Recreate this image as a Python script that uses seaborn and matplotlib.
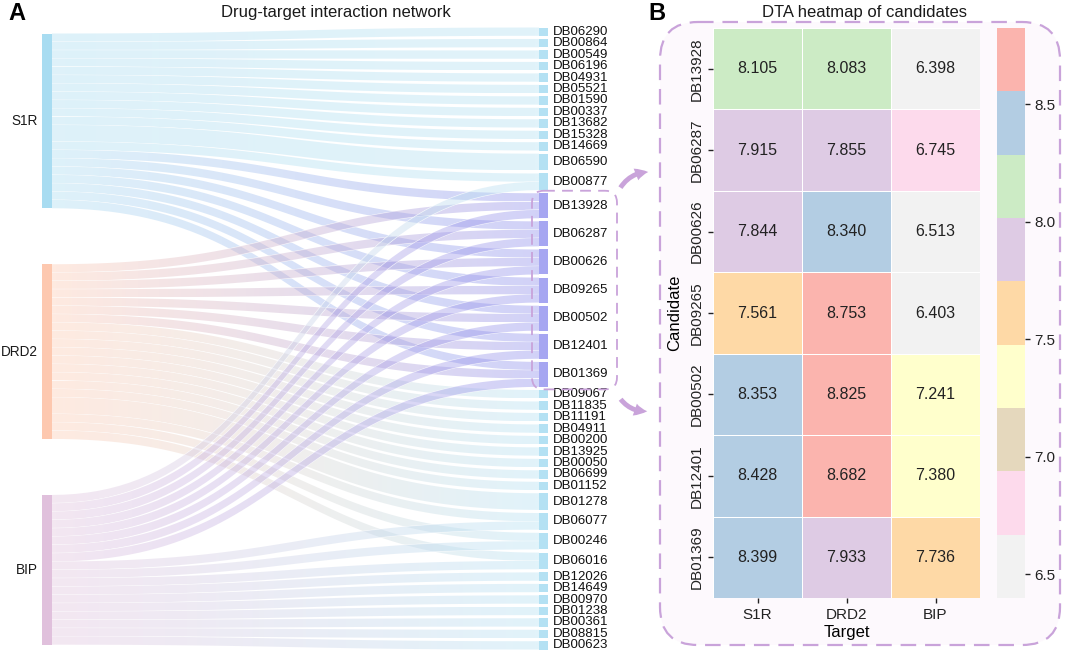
import numpy as np
import pandas as pd
import matplotlib
matplotlib.use("Agg")
import matplotlib.pyplot as plt
import seaborn as sns
from matplotlib.patches import Polygon, Rectangle, FancyBboxPatch
from matplotlib.colors import to_rgba

plt.rcParams['font.family'] = ['Liberation Sans', 'DejaVu Sans']

# ---- data: heatmap of candidates ----
targets = ["S1R", "DRD2", "BIP"]
candidates = ["DB13928", "DB06287", "DB00626", "DB09265", "DB00502", "DB12401", "DB01369"]
s1r_dta = [8.105, 7.915, 7.844, 7.561, 8.353, 8.428, 8.399]
drd2_dta = [8.083, 7.855, 8.340, 8.753, 8.825, 8.682, 7.933]
bip_dta = [6.398, 6.745, 6.513, 6.403, 7.241, 7.380, 7.736]

# ---- data: drug-target network ----
drugs_top = ["DB06290", "DB00864", "DB00549", "DB06196", "DB04931", "DB05521", "DB01590",
             "DB00337", "DB13682", "DB15328", "DB14669", "DB06590", "DB00877"]
drugs_bottom = ["DB09067", "DB11835", "DB11191", "DB04911", "DB00200", "DB13925", "DB00050",
                "DB06699", "DB01152", "DB01278", "DB06077", "DB00246", "DB06016", "DB12026",
                "DB14649", "DB00970", "DB01238", "DB00361", "DB08815", "DB00623"]

s1r_links = {"DB06290": 1, "DB00864": 1, "DB00549": 1, "DB06196": 1, "DB04931": 1, "DB05521": 1,
             "DB01590": 1, "DB00337": 1, "DB13682": 1, "DB15328": 1, "DB14669": 1,
             "DB06590": 2, "DB00877": 1,
             "DB13928": 1, "DB06287": 1, "DB00626": 1, "DB09265": 1, "DB00502": 1, "DB12401": 1, "DB01369": 1}
drd2_links = {"DB13928": 1, "DB06287": 1, "DB00626": 1, "DB09265": 1, "DB00502": 1, "DB12401": 1, "DB01369": 1,
              "DB09067": 1, "DB11835": 1, "DB11191": 1, "DB04911": 1, "DB00200": 1, "DB13925": 1,
              "DB00050": 1, "DB06699": 1, "DB01152": 1,
              "DB01278": 2, "DB06077": 1, "DB00246": 1, "DB06016": 1}
bip_links = {"DB00877": 1,
             "DB13928": 1, "DB06287": 1, "DB00626": 1, "DB09265": 1, "DB00502": 1, "DB12401": 1, "DB01369": 1,
             "DB06077": 1, "DB00246": 1, "DB06016": 1,
             "DB12026": 1, "DB14649": 1, "DB00970": 1, "DB01238": 1, "DB00361": 1, "DB08815": 1, "DB00623": 1}

source_colors = {"S1R": "#a8dcf1", "DRD2": "#fdc8af", "BIP": "#e0c0dc"}
drug_color = "#b4e1f3"
cand_color = "#a6a6f1"
cand_link_color = "#8e8eec"
box_color = "#c9a3da"

links = {"S1R": s1r_links, "DRD2": drd2_links, "BIP": bip_links}
drug_order = drugs_top + candidates + drugs_bottom

fig = plt.figure(figsize=(10.65, 6.52), dpi=100)
ax0 = fig.add_axes([0, 0, 1, 1])
ax0.set_axis_off()

# ---- sankey layout (pixel-like coordinates) ----
unit = 8.32
src_x, src_w = 42, 10
dst_x, dst_w = 539, 9
src_top, src_gap = 33.5, 56
dst_top, dst_gap = 27.5, 3.15

src_pos = {}
y = src_top
for s in targets:
    h = sum(links[s].values()) * unit
    src_pos[s] = y
    y += h + src_gap

dst_total = {d: sum(links[s].get(d, 0) for s in targets) for d in drug_order}
dst_pos = {}
y = dst_top
for d in drug_order:
    dst_pos[d] = y
    y += dst_total[d] * unit + dst_gap

# offsets at both ends
src_off = {s: src_pos[s] for s in targets}
dst_off = {d: dst_pos[d] for d in drug_order}
bands = []
for s in targets:
    for d in drug_order:
        w = links[s].get(d, 0)
        if w:
            bands.append([s, d, w, src_off[s], None])
            src_off[s] += w * unit
for d in drug_order:
    for b in bands:
        if b[1] == d:
            b[4] = dst_off[d]
            dst_off[d] += b[2] * unit

t = np.linspace(0, 1, 60)
x0, x1 = src_x + src_w, dst_x
bx = x0 + (x1 - x0) * (1.5 * t * (1 - t) + t ** 3)
ease = 3 * t ** 2 - 2 * t ** 3
link_alpha = 0.38
for s, d, w, ys, yd in bands:
    h = w * unit
    top = ys + (yd - ys) * ease
    bot = top + h
    verts = np.vstack([np.column_stack([bx, top]), np.column_stack([bx, bot])[::-1]])
    poly = Polygon(verts, closed=True, facecolor="none", edgecolor="white", lw=0.5, zorder=1)
    ax0.add_patch(poly)
    c0 = np.array(to_rgba(source_colors[s], link_alpha))
    c1 = np.array(to_rgba(cand_link_color if d in candidates else drug_color, link_alpha + 0.02))
    k = np.linspace(0, 1, 64)[:, None]
    grad = c0[None, :] * (1 - k) + c1[None, :] * k
    im = ax0.imshow(grad[None, :, :], extent=[x0, x1, max(ys, yd) + h, min(ys, yd)],
                    aspect="auto", interpolation="bilinear", zorder=1)
    im.set_clip_path(poly)

for s in targets:
    h = sum(links[s].values()) * unit
    ax0.add_patch(Rectangle((src_x, src_pos[s]), src_w, h, color=source_colors[s], lw=0, zorder=3))
    ax0.text(src_x - 4, src_pos[s] + h / 2, s, ha="right", va="center", fontsize=9.8, color="#1a1a1a")

for d in drug_order:
    h = dst_total[d] * unit
    ax0.add_patch(Rectangle((dst_x, dst_pos[d]), dst_w, h, color=cand_color if d in candidates else drug_color,
                            lw=0, zorder=3))
    ax0.text(dst_x + dst_w + 5, dst_pos[d] + h / 2, d, ha="left", va="center", fontsize=9.5, color="#111111")

# highlight box on candidates
c_top = dst_pos[candidates[0]] - 2.5
c_bot = dst_pos[candidates[-1]] + dst_total[candidates[-1]] * unit + 2.5
ax0.add_patch(FancyBboxPatch((532, c_top), 85, c_bot - c_top, boxstyle="round,pad=0,rounding_size=12",
                             fill=False, ec=box_color, lw=1.3, ls=(0, (6, 4)), zorder=4))

# panel B box
ax0.add_patch(FancyBboxPatch((660, 22), 400, 623, boxstyle="round,pad=0,rounding_size=38",
                             fc="#fdf9fd", ec=box_color, lw=1.6, ls=(0, (7, 4)), zorder=0))

# arrows to panel B
ax0.annotate("", xy=(651, 172), xytext=(619, 190),
             arrowprops=dict(arrowstyle="simple,head_length=0.9,head_width=0.9,tail_width=0.35",
                             connectionstyle="arc3,rad=-0.3", color=box_color, lw=0))
ax0.annotate("", xy=(650, 411), xytext=(619, 397),
             arrowprops=dict(arrowstyle="simple,head_length=0.9,head_width=0.9,tail_width=0.35",
                             connectionstyle="arc3,rad=0.3", color=box_color, lw=0))

ax0.text(8, 14, "A", fontsize=17, fontweight="bold", ha="left", va="center")
ax0.text(648, 14, "B", fontsize=17, fontweight="bold", ha="left", va="center")
ax0.text(336, 13, "Drug-target interaction network", fontsize=12, ha="center", va="center", color="#1a1a1a")
ax0.text(865, 13, "DTA heatmap of candidates", fontsize=12, ha="center", va="center", color="#1a1a1a")

ax0.set_xlim(0, 1065)
ax0.set_ylim(652, 0)

# ---- heatmap ----
df = pd.DataFrame({"S1R": s1r_dta, "DRD2": drd2_dta, "BIP": bip_dta}, index=candidates)
ax1 = fig.add_axes([713 / 1065, 54 / 652, 267 / 1065, 570 / 652])
cax = fig.add_axes([997 / 1065, 54 / 652, 28 / 1065, 570 / 652])
sns.heatmap(df, ax=ax1, cbar_ax=cax, cmap="Pastel1_r", annot=True, fmt=".3f",
            linewidths=0.7, linecolor="white", annot_kws={"size": 11.5, "color": "#222222"})
ax1.set_xlabel("Target", fontsize=12, labelpad=2)
ax1.set_ylabel("Candidate", fontsize=12, labelpad=5)
ax1.tick_params(axis="both", labelsize=11, length=3.5, width=1, colors="#222222")
ax1.set_yticklabels(candidates, rotation=90, va="center")
cax.tick_params(labelsize=11, length=3.5, width=1, colors="#222222")

plt.savefig("out.png", dpi=100)
